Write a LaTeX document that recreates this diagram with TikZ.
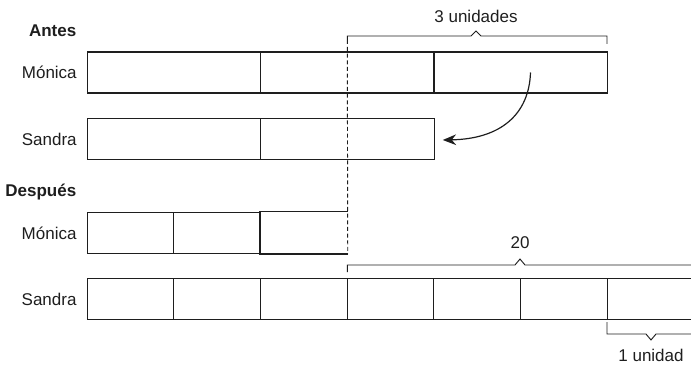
\documentclass[tikz,border=0pt]{standalone}
\usepackage{fontspec}
\setmainfont{Liberation Sans}
\usetikzlibrary{arrows.meta, positioning, calc}

\definecolor{ink}{HTML}{1E1E1E}
\tikzset{
    cell/.style={draw=ink, line width=0.9pt, minimum width=65pt, minimum height=30.75pt, inner sep=0pt},
    wide/.style={minimum width=130pt},
    brace/.style={draw=ink, line width=0.7pt},
    lbl/.style={text=ink},
    headline/.style={anchor=east, text=ink, font=\fontsize{12.75}{15}\selectfont\bfseries},
}

\begin{document}
\begin{tikzpicture}[x=0.75pt, y=-0.75pt, font=\fontsize{12.75}{15}\selectfont]
            \useasboundingbox (0,0) rectangle (691,366);
            \draw (81,31) node[headline] (antes) {Antes};
            \draw (174,72.5) node[cell, wide] (m1) {};
            \draw (347.5,72.5) node[cell, wide] (m2) {};
            \draw (520.5,72.5) node[cell, wide] (m3) {};
            \draw (174,139) node[cell, wide] (s1) {};
            \draw (347.5,139) node[cell, wide] (s2) {};
            \node[lbl, left=4pt of m1] (monica1) {Mónica};
            \node[lbl, left=4pt of s1] (sandra1) {Sandra};

            \draw (81,192) node[headline] (despues) {Después};
            \draw (130.5,233) node[cell] (n1) {};
            \draw (217.2,233) node[cell] (n2) {};
            \draw (303.8,233) node[cell, draw=none] (n3) {};
            \draw (130.5,299) node[cell] (t1) {};
            \draw (217.2,299) node[cell] (t2) {};
            \draw (303.8,299) node[cell] (t3) {};
            \draw (390.5,299) node[cell] (t4) {};
            \draw (477.2,299) node[cell] (t5) {};
            \draw (563.8,299) node[cell] (t6) {};
            \draw (650.5,299) node[cell] (t7) {};
            \node[lbl, left=4pt of n1] (monica2) {Mónica};
            \node[lbl, left=4pt of t1] (sandra2) {Sandra};

            \draw[ink, line width=0.9pt] (n3.north east) -- (n3.north west) -- (n3.south west) -- (n3.south east);
            \coordinate (cut) at (347.3,47);
            \draw[ink, line width=0.7pt, dash pattern=on 3pt off 2pt] (cut) -- (n3.south east);

            \draw[brace] (347.3,44) -- (347.3,36) -- (471,36) -- (476,31) -- (481,36) -- (607,36) -- (607,44);
            \node[lbl] (tres) at (476,16) {3 unidades};
            \draw[brace] (347.3,272) -- (347.3,265) -- (515,265) -- (520,259) -- (525,265) -- (700,265);
            \node[lbl] (veinte) at (520,243) {20};
            \draw[brace] (607,322) -- (607,334) -- (646,334) -- (651,340) -- (656,334) -- (700,334);
            \node[lbl] (unidad) at (651,355) {1 unidad};

            \draw[ink, line width=0.9pt, -{Stealth[length=10pt, width=8pt]}]
                ($(m3.center)+(10,0)$) .. controls (529,115) and (500,139) .. ($(s2.east)+(8,1)$);
        \end{tikzpicture}
\end{document}
